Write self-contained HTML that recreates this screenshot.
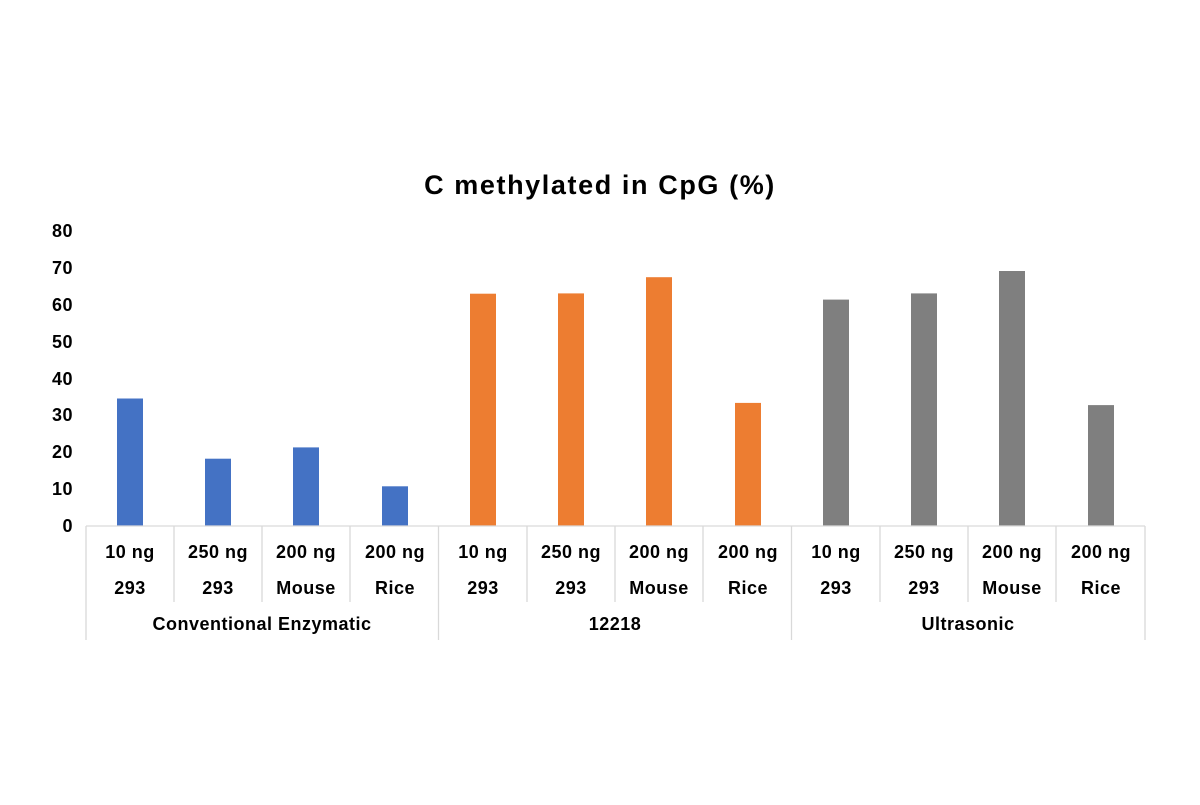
<!DOCTYPE html>
<html><head><style>body{margin:0;background:#fff}</style></head><body>
<svg width="1200" height="800" xmlns="http://www.w3.org/2000/svg" font-family="Liberation Sans, sans-serif" font-weight="bold">
<rect width="1200" height="800" fill="#fff"/>
<text x="600" y="194" font-size="27" letter-spacing="1.6" text-anchor="middle" fill="#000">C methylated in CpG (%)</text>
<g font-size="18" text-anchor="end" fill="#000" letter-spacing="0.5">
<text x="73" y="532">0</text><text x="73" y="495">10</text><text x="73" y="458">20</text><text x="73" y="421">30</text><text x="73" y="385">40</text><text x="73" y="348">50</text><text x="73" y="311">60</text><text x="73" y="274">70</text><text x="73" y="237">80</text>
</g>
<g fill="#4472C4">
<rect x="117" y="398.5" width="26" height="127.5"/>
<rect x="205" y="458.7" width="26" height="67.3"/>
<rect x="293" y="447.4" width="26" height="78.6"/>
<rect x="382" y="486.3" width="26" height="39.7"/>
</g>
<g fill="#ED7D31">
<rect x="470" y="293.7" width="26" height="232.3"/>
<rect x="558" y="293.4" width="26" height="232.6"/>
<rect x="646" y="277.2" width="26" height="248.8"/>
<rect x="735" y="402.9" width="26" height="123.1"/>
</g>
<g fill="#7F7F7F">
<rect x="823" y="299.6" width="26" height="226.4"/>
<rect x="911" y="293.4" width="26" height="232.6"/>
<rect x="999" y="271" width="26" height="255"/>
<rect x="1088" y="405.1" width="26" height="120.9"/>
</g>
<g stroke="#d9d9d9" stroke-width="1.3">
<line x1="86" y1="526" x2="1145" y2="526"/>
<line x1="86" y1="526" x2="86" y2="640"/>
<line x1="438.5" y1="526" x2="438.5" y2="640"/>
<line x1="791.5" y1="526" x2="791.5" y2="640"/>
<line x1="1145" y1="526" x2="1145" y2="640"/>
<line x1="174" y1="526" x2="174" y2="602"/><line x1="262" y1="526" x2="262" y2="602"/><line x1="350" y1="526" x2="350" y2="602"/>
<line x1="527" y1="526" x2="527" y2="602"/><line x1="615" y1="526" x2="615" y2="602"/><line x1="703" y1="526" x2="703" y2="602"/>
<line x1="880" y1="526" x2="880" y2="602"/><line x1="968" y1="526" x2="968" y2="602"/><line x1="1056" y1="526" x2="1056" y2="602"/>
</g>
<g font-size="18" text-anchor="middle" fill="#000" letter-spacing="0.5">
<text x="130" y="558">10 ng</text><text x="130" y="594">293</text>
<text x="218" y="558">250 ng</text><text x="218" y="594">293</text>
<text x="306" y="558">200 ng</text><text x="306" y="594">Mouse</text>
<text x="395" y="558">200 ng</text><text x="395" y="594">Rice</text>
<text x="483" y="558">10 ng</text><text x="483" y="594">293</text>
<text x="571" y="558">250 ng</text><text x="571" y="594">293</text>
<text x="659" y="558">200 ng</text><text x="659" y="594">Mouse</text>
<text x="748" y="558">200 ng</text><text x="748" y="594">Rice</text>
<text x="836" y="558">10 ng</text><text x="836" y="594">293</text>
<text x="924" y="558">250 ng</text><text x="924" y="594">293</text>
<text x="1012" y="558">200 ng</text><text x="1012" y="594">Mouse</text>
<text x="1101" y="558">200 ng</text><text x="1101" y="594">Rice</text>
<text x="262" y="630">Conventional Enzymatic</text>
<text x="615" y="630">12218</text>
<text x="968" y="630">Ultrasonic</text>
</g>
</svg>
</body></html>
